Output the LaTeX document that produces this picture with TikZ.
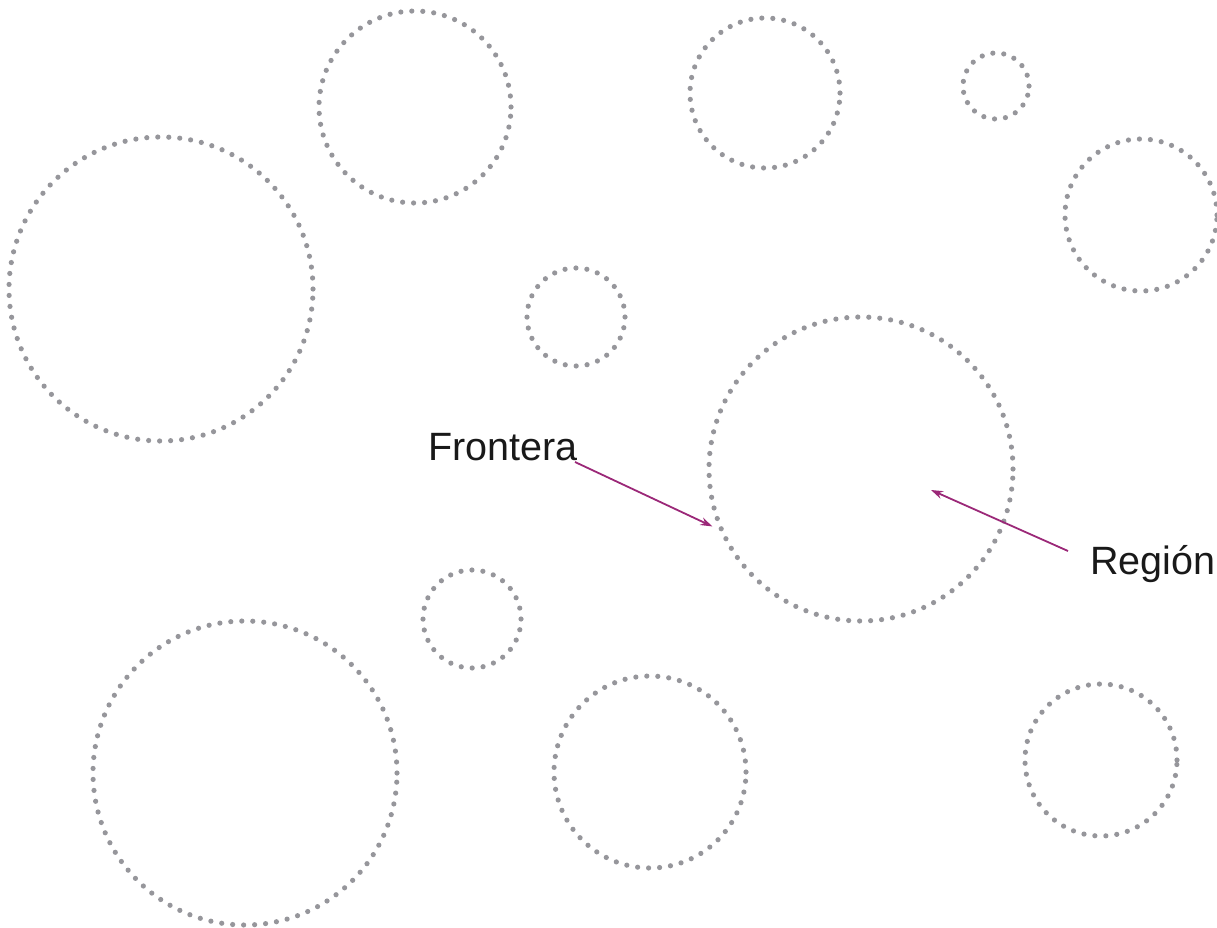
\documentclass[tikz,border=0pt]{standalone}
\usepackage{fontspec}
\setmainfont{Liberation Sans}
\usetikzlibrary{arrows.meta,positioning}
\definecolor{dotgray}{RGB}{150,150,155}
\definecolor{arrowpurple}{RGB}{155,40,120}

\begin{document}
\begin{tikzpicture}[
        x=1pt, y=-1pt,
        blob/.style={
            circle, draw=dotgray, inner sep=0pt,
            line width=5.2pt, line cap=round,
            dash pattern=on 0pt off 11pt
        },
        label/.style={font=\fontsize{39.5}{42}\selectfont, text=black!90, inner sep=0pt},
        pointer/.style={draw=arrowpurple, line width=1.8pt, -{Stealth[length=12pt,width=8pt]}}
      ]

  \useasboundingbox (0,0) rectangle (1217,928);

  \node   (bigleft)  [blob, minimum size=304pt] at (161,289) {};
  \node   (topmid)   [blob, minimum size=192pt] at (415,107) {};
  \node   (topright) [blob, minimum size=150pt] at (765,93) {};
  \node   (tiny)     [blob, minimum size=66pt]  at (996,86) {};
  \node   (edge)     [blob, minimum size=152pt] at (1141,215) {};
  \node   (small)    [blob, minimum size=98pt]  at (576,317) {};
  \node   (region)   [blob, minimum size=304pt] at (861,469) {};
  \node   (smalllow) [blob, minimum size=98pt]  at (472,619) {};
  \node   (bigbot)   [blob, minimum size=304pt] at (245,773) {};
  \node   (botmid)   [blob, minimum size=192pt] at (650,772) {};
  \node   (botright) [blob, minimum size=152pt] at (1101,760) {};

  \node   (frontera) [label, anchor=base west] at (428,460) {Frontera};
  \node   (regtext)  [label, anchor=base west] at (1090,574) {Región};

  \coordinate (fronttail) at (575,462);
  \coordinate (regtail) at (1068,551);
  \coordinate (inside) at (931,490);
  \draw[pointer, shorten >=7pt] (fronttail) -- (region.203);
  \draw[pointer] (regtail) -- (inside);

\end{tikzpicture}
\end{document}
